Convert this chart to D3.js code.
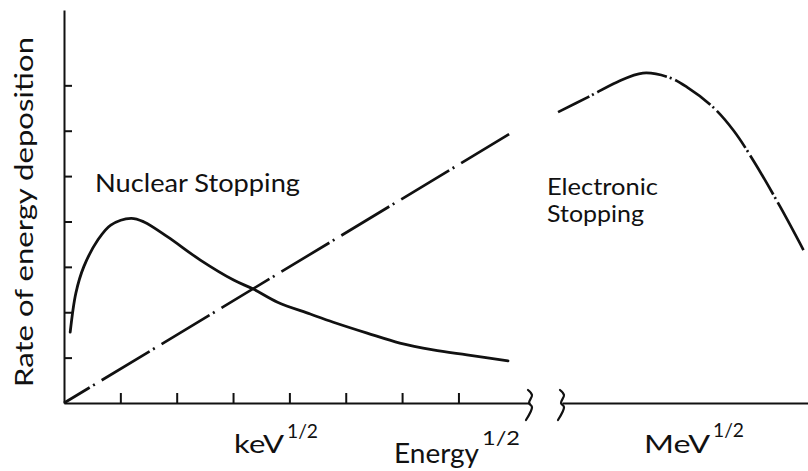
<!DOCTYPE html>
<html>
<head>
<meta charset="utf-8">
<script src="https://cdn.jsdelivr.net/npm/d3@7"></script>
<style>
  html, body { margin: 0; padding: 0; background: #fff; }
  svg { display: block; }
  text { font-family: Lato, "Open Sans", sans-serif; fill: #111; }
</style>
</head>
<body>
<svg id="chart" width="808" height="471"></svg>
<script>
// Tick positions (arbitrary units) on the two axes
const yTicks = [1, 2, 3, 4, 5, 6, 7];
const xTicks = [1, 2, 3, 4, 5, 6, 7];

// Nuclear stopping: [energy^1/2 (keV scale), rate]
const nuclear = [
  [0.11, 1.56], [0.21, 2.42], [0.35, 3.00], [0.60, 3.59], [0.83, 3.92],
  [1.19, 4.07], [1.42, 3.99], [1.84, 3.66], [2.42, 3.15], [3.01, 2.71],
  [3.36, 2.51], [3.79, 2.22], [4.37, 1.96], [4.78, 1.78], [5.38, 1.54],
  [5.96, 1.32], [6.55, 1.17], [7.15, 1.06], [7.88, 0.93]
];

// Electronic stopping, low-energy linear part (keV scale)
const electronicLow = [[0, 0], [7.96, 5.97]];

// Electronic stopping, high-energy part (MeV scale)
const electronicHigh = [
  [-0.07, 6.41], [0.46, 6.74], [0.97, 7.07], [1.43, 7.27], [1.88, 7.18],
  [2.21, 6.96], [2.67, 6.52], [3.03, 6.01], [3.38, 5.35], [3.86, 4.32],
  [4.27, 3.37]
];

// Shape of the axis-break mark, offsets from the break point
const breakMark = [[-2, -13], [2, -8], [-1, 0], [2, 4], [-4, 17]];

const svg = d3.select("#chart");
const ink = "#111";

const y  = d3.scaleLinear().domain([0, 8.66]).range([403, 10]);
const xK = d3.scaleLinear().domain([0, 8.27]).range([64, 530]);
const xM = d3.scaleLinear().domain([0, 4.35]).range([562, 808]);

// Y axis with inward ticks
const gy = svg.append("g")
  .attr("transform", `translate(${xK(0)},0)`)
  .call(d3.axisLeft(y).tickValues(yTicks).tickSizeInner(-8).tickSizeOuter(0).tickFormat(""));

// Lower-energy X axis segment with upward ticks
const gx = svg.append("g")
  .attr("transform", `translate(0,${y(0)})`)
  .call(d3.axisBottom(xK).tickValues(xTicks).tickSizeInner(-10).tickSizeOuter(0).tickFormat(""));

// Higher-energy X axis segment, no ticks
const gx2 = svg.append("g")
  .attr("transform", `translate(0,${y(0)})`)
  .call(d3.axisBottom(xM).tickValues([]).tickSizeOuter(0));

[gy, gx, gx2].forEach(g => {
  g.selectAll("path, line").attr("stroke", ink).attr("stroke-width", 2);
});

// Axis break marks
const breakLine = d3.line().curve(d3.curveCatmullRom.alpha(0.5));
[xK.range()[1], xM.range()[0]].forEach(bx => {
  svg.append("path")
    .attr("d", breakLine(breakMark.map(([dx, dy]) => [bx + dx, y(0) + dy])))
    .attr("fill", "none")
    .attr("stroke", ink)
    .attr("stroke-width", 2.2)
    .attr("stroke-linecap", "round");
});

const curve = d3.curveCatmullRom.alpha(0.5);

// Nuclear stopping curve (solid)
svg.append("path")
  .attr("d", d3.line().x(d => xK(d[0])).y(d => y(d[1])).curve(curve)(nuclear))
  .attr("fill", "none")
  .attr("stroke", ink)
  .attr("stroke-width", 2.8)
  .attr("stroke-linecap", "round");

// Electronic stopping, linear region (dash-dot)
svg.append("path")
  .attr("d", d3.line().x(d => xK(d[0])).y(d => y(d[1]))(electronicLow))
  .attr("fill", "none")
  .attr("stroke", ink)
  .attr("stroke-width", 2.7)
  .attr("stroke-dasharray", "56,4,2,8")
  .attr("stroke-dashoffset", 26);

// Electronic stopping, high-energy region (dash-dot)
svg.append("path")
  .attr("d", d3.line().x(d => xM(d[0])).y(d => y(d[1])).curve(curve)(electronicHigh))
  .attr("fill", "none")
  .attr("stroke", ink)
  .attr("stroke-width", 2.7)
  .attr("stroke-dasharray", "35,3,2,4,74,3,2,4,43,3,2,4,47,3,2,4,45,3,2,4,60");

// Labels
function label(x, yb, str, size, width) {
  return svg.append("text")
    .attr("x", x).attr("y", yb)
    .attr("font-size", size)
    .attr("textLength", width)
    .attr("lengthAdjust", "spacingAndGlyphs")
    .text(str);
}

svg.append("text")
  .attr("transform", "translate(33,212) rotate(-90)")
  .attr("text-anchor", "middle")
  .attr("font-size", 25)
  .attr("textLength", 350)
  .attr("lengthAdjust", "spacingAndGlyphs")
  .text("Rate of energy deposition");

label(95, 192, "Nuclear Stopping", 25, 205);
label(547, 195, "Electronic", 23, 111);
label(547, 222, "Stopping", 23, 97);

label(234, 453, "keV", 25, 50);
label(287, 438, "1/2", 19, 31);
label(394, 463, "Energy", 26, 85);
label(482, 445, "1/2", 19, 38);
label(644, 453, "MeV", 25, 66);
label(713, 437, "1/2", 19, 31);
</script>
</body>
</html>
